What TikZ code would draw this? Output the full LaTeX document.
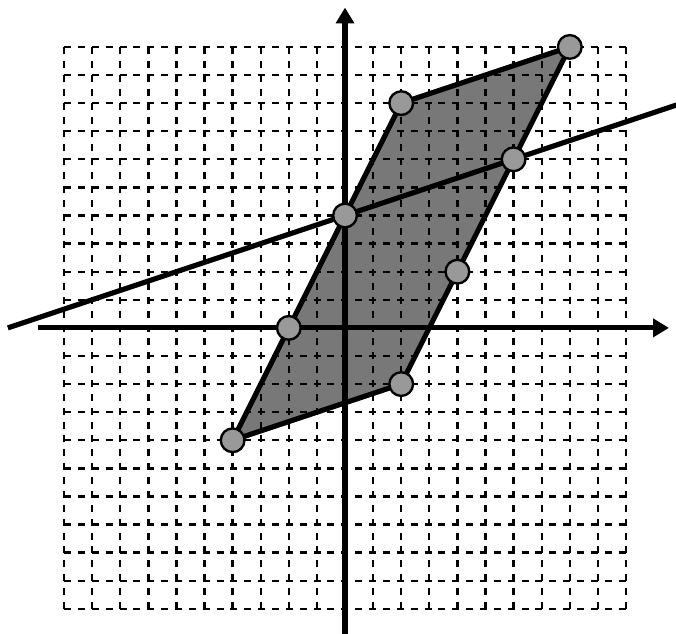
\documentclass[tikz,border=0pt]{standalone}
\usetikzlibrary{arrows.meta}
\begin{document}
\begin{tikzpicture}[x=0.5cm,y=0.5cm,
  gridline/.style={line width=1.2pt,dash pattern=on 3.54pt off 3.48pt},
  axis/.style={line width=2.6pt,-{Triangle[length=8pt,width=9pt]}},
  edge/.style={line width=2.6pt,line join=round},
  dot/.style={circle,draw=black,line width=1.2pt,fill=black!40,minimum size=12pt,inner sep=0pt}]
\useasboundingbox (-12.28,-10.89) rectangle (11.78,11.67);
\coordinate (A) at (-4,-4);
\coordinate (B) at (2,-2);
\coordinate (C) at (8,10);
\coordinate (D) at (2,8);
\fill[black!53] (A) -- (B) -- (C) -- (D) -- cycle;
\foreach \i in {-10,...,10}{
  \draw[gridline] (\i,-10) -- (\i,10);
  \draw[gridline] (-10,\i) -- (10,\i);
}
\coordinate (xs) at (-10.93,0);
\coordinate (xe) at (11.53,0);
\coordinate (ys) at (0,-10.95);
\coordinate (ye) at (0,11.4);
\draw[axis] (xs) -- (xe);
\draw[axis] (ys) -- (ye);
\draw[edge] (A) -- (B) -- (C) -- (D) -- cycle;
\coordinate (L1) at (-12,0);
\coordinate (L2) at (12,8);
\draw[edge] (L1) -- (L2);
\foreach \p/\n in {{(8,10)}/p1,{(2,8)}/p2,{(6,6)}/p3,{(0,4)}/p4,{(4,2)}/p5,{(-2,0)}/p6,{(2,-2)}/p7,{(-4,-4)}/p8}
  \node[dot] (\n) at \p {};
\end{tikzpicture}
\end{document}
